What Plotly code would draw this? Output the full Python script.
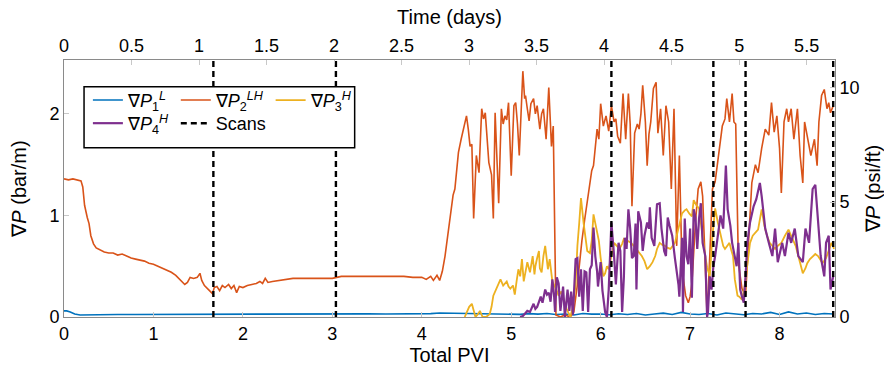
import plotly.graph_objects as go

# ---------------- data (Total PVI, bar/m) ----------------
P1_L = [(0.00,0.06),(0.03,0.06),(0.07,0.05),(0.12,0.03),(0.18,0.02),(0.25,0.022),(0.4,0.024),(0.6,0.025),
        (0.8,0.025),(1.0,0.026),(1.2,0.027),(1.4,0.028),(1.6,0.028),(1.8,0.03),(2.0,0.03),(2.2,0.03),
        (2.4,0.03),(2.6,0.029),(2.8,0.03),(3.0,0.031),(3.2,0.031),(3.4,0.031),(3.6,0.03),(3.8,0.031),
        (4.0,0.03),(4.1,0.033),(4.2,0.04),(4.3,0.038),(4.4,0.036),(4.5,0.035),(4.6,0.033),(4.7,0.032),
        (4.8,0.03),(4.9,0.028),(5.0,0.03),(5.1,0.026),(5.2,0.033),(5.3,0.028),(5.4,0.035),(5.5,0.025),
        (5.6,0.03),(5.7,0.02),(5.8,0.035),(5.9,0.028),(6.0,0.03),(6.1,0.022),(6.2,0.032),(6.3,0.025),
        (6.4,0.035),(6.5,0.02),(6.6,0.03),(6.7,0.038),(6.8,0.025),(6.9,0.045),(7.0,0.03),(7.1,0.025),
        (7.2,0.035),(7.3,0.02),(7.4,0.04),(7.5,0.028),(7.6,0.022),(7.7,0.035),(7.8,0.03),(7.9,0.045),
        (8.0,0.025),(8.1,0.05),(8.2,0.03),(8.3,0.04),(8.4,0.025),(8.5,0.035),(8.6,0.03)]

P2_LH = [(0.00,1.36),(0.05,1.35),(0.10,1.36),(0.15,1.35),(0.19,1.34),(0.21,1.28),(0.23,1.10),(0.26,0.98),
         (0.28,0.92),(0.30,0.80),(0.33,0.72),(0.36,0.68),(0.40,0.66),(0.45,0.64),(0.50,0.63),(0.55,0.63),
         (0.60,0.61),(0.65,0.62),(0.70,0.60),(0.75,0.58),(0.80,0.57),(0.85,0.56),(0.90,0.55),(0.95,0.53),
         (1.00,0.52),(1.05,0.50),(1.10,0.48),(1.15,0.46),(1.20,0.44),(1.25,0.41),(1.30,0.36),(1.35,0.32),
         (1.38,0.34),(1.41,0.39),(1.45,0.38),(1.49,0.39),(1.52,0.43),(1.54,0.36),(1.57,0.31),(1.62,0.27),
         (1.66,0.23),(1.68,0.29),(1.71,0.30),(1.74,0.26),(1.77,0.31),(1.80,0.29),(1.84,0.32),(1.87,0.28),
         (1.90,0.31),(1.93,0.24),(1.96,0.30),(2.00,0.29),(2.05,0.31),(2.10,0.32),(2.15,0.33),(2.19,0.35),
         (2.22,0.33),(2.25,0.38),(2.28,0.34),(2.33,0.35),(2.40,0.36),(2.48,0.37),(2.56,0.38),(2.65,0.38),
         (2.75,0.38),(2.90,0.38),(3.00,0.38),(3.05,0.39),(3.10,0.40),(3.20,0.40),(3.35,0.40),(3.50,0.40),
         (3.65,0.40),(3.80,0.40),(3.90,0.39),(4.00,0.39),(4.05,0.37),(4.10,0.40),(4.13,0.36),(4.17,0.41),
         (4.20,0.36),(4.23,0.45),(4.26,0.60),(4.29,0.80),(4.32,1.00),(4.35,1.20),(4.37,1.26),(4.39,1.45),
         (4.41,1.62),(4.44,1.75),(4.47,1.88),(4.50,1.98),(4.52,1.85),(4.54,1.68),(4.56,1.70),(4.58,0.97),
         (4.61,1.59),(4.64,1.42),(4.67,2.05),(4.69,1.95),(4.71,2.01),(4.73,1.80),(4.75,1.52),(4.78,1.40),
         (4.80,0.97),(4.82,2.01),(4.84,1.60),(4.86,1.12),(4.89,2.05),(4.91,1.90),(4.93,1.98),(4.95,1.94),
         (4.97,2.11),(5.00,1.39),(5.03,2.08),(5.05,2.11),(5.07,1.90),(5.09,1.59),(5.11,2.00),(5.13,2.42),
         (5.15,2.15),(5.16,2.18),(5.18,2.05),(5.20,1.93),(5.22,2.10),(5.25,2.15),(5.27,2.00),(5.29,2.08),
         (5.32,1.85),(5.34,2.00),(5.36,2.05),(5.39,1.75),(5.42,2.26),(5.44,1.90),(5.45,1.68),(5.47,1.88),
         (5.49,0.30),(5.50,0.02),(5.55,0.00),(5.60,0.02),(5.66,0.00),(5.70,0.05),(5.74,0.32),(5.77,0.60),
         (5.79,0.75),(5.82,0.95),(5.85,1.14),(5.88,1.30),(5.90,1.44),(5.92,1.49),(5.94,1.64),(5.96,1.85),
         (5.98,1.75),(6.00,2.10),(6.03,1.88),(6.06,1.98),(6.09,1.83),(6.12,2.08),(6.15,1.92),(6.17,1.95),
         (6.19,1.78),(6.22,1.71),(6.25,2.20),(6.28,1.75),(6.31,2.20),(6.33,1.90),(6.35,1.09),(6.38,1.81),
         (6.41,1.90),(6.43,1.85),(6.45,2.00),(6.47,2.28),(6.50,1.92),(6.52,1.49),(6.54,1.80),(6.56,1.92),
         (6.59,2.25),(6.62,2.31),(6.64,1.81),(6.67,2.05),(6.70,1.59),(6.73,2.08),(6.76,1.92),(6.79,1.26),
         (6.82,2.05),(6.85,0.70),(6.88,1.59),(6.91,0.47),(6.95,0.21),(6.98,0.14),(7.00,0.20),(7.02,0.33),
         (7.06,0.93),(7.09,1.26),(7.12,1.33),(7.14,1.19),(7.17,0.50),(7.19,0.01),(7.22,0.60),(7.25,1.26),
         (7.28,1.33),(7.32,1.59),(7.36,1.88),(7.39,1.95),(7.41,2.15),(7.44,1.92),(7.47,2.20),(7.49,1.92),
         (7.51,1.90),(7.54,0.53),(7.58,0.28),(7.62,0.21),(7.65,0.73),(7.69,1.32),(7.73,1.50),(7.76,1.42),
         (7.80,1.66),(7.84,1.85),(7.88,1.79),(7.91,2.11),(7.94,1.82),(7.97,1.98),(8.00,1.66),(8.02,1.22),
         (8.05,1.92),(8.08,2.05),(8.10,1.92),(8.13,2.05),(8.16,1.75),(8.20,2.05),(8.23,1.59),(8.26,1.32),
         (8.28,1.92),(8.31,1.79),(8.35,1.59),(8.39,1.75),(8.42,1.49),(8.44,1.92),(8.47,2.18),(8.50,2.24),
         (8.53,2.05),(8.55,2.11),(8.57,2.01),(8.60,2.08)]

P3_H = [(4.48,0.00),(4.50,0.04),(4.53,0.10),(4.56,0.13),(4.58,0.05),(4.60,0.00),(4.63,0.03),(4.65,0.06),
        (4.68,0.00),(4.72,0.00),(4.76,0.03),(4.78,0.10),(4.80,0.21),(4.83,0.27),(4.86,0.33),(4.88,0.37),
        (4.91,0.31),(4.93,0.33),(4.95,0.35),(4.97,0.30),(4.99,0.28),(5.02,0.31),(5.04,0.22),(5.06,0.35),
        (5.08,0.47),(5.10,0.40),(5.12,0.57),(5.14,0.35),(5.16,0.45),(5.18,0.54),(5.21,0.44),(5.23,0.55),
        (5.24,0.60),(5.26,0.42),(5.27,0.50),(5.29,0.58),(5.31,0.65),(5.32,0.48),(5.34,0.44),(5.36,0.60),
        (5.38,0.70),(5.40,0.55),(5.41,0.47),(5.43,0.57),(5.46,0.35),(5.50,0.28),(5.53,0.21),(5.56,0.25),
        (5.58,0.19),(5.62,0.08),(5.66,0.00),(5.69,0.10),(5.72,0.32),(5.74,0.70),(5.76,0.92),(5.78,1.17),
        (5.81,0.92),(5.83,0.80),(5.85,0.65),(5.88,0.63),(5.90,0.75),(5.92,1.01),(5.94,0.93),(5.96,0.85),
        (5.98,0.75),(6.00,0.58),(6.03,0.40),(6.05,0.43),(6.07,0.50),(6.09,0.47),(6.12,0.60),(6.15,0.73),
        (6.18,0.70),(6.21,0.67),(6.24,0.72),(6.26,0.77),(6.30,0.75),(6.34,0.73),(6.37,0.70),(6.40,0.67),
        (6.43,0.64),(6.46,0.60),(6.49,0.55),(6.52,0.47),(6.55,0.50),(6.58,0.54),(6.61,0.60),(6.63,0.67),
        (6.66,0.73),(6.69,0.71),(6.72,0.70),(6.75,0.68),(6.78,0.67),(6.81,0.70),(6.83,0.73),(6.85,0.80),
        (6.87,0.87),(6.91,1.02),(6.94,1.05),(6.96,1.06),(6.99,1.02),(7.02,0.99),(7.04,1.15),(7.07,1.10),
        (7.10,1.07),(7.13,0.85),(7.16,0.65),(7.19,0.49),(7.22,0.40),(7.25,0.80),(7.28,1.07),(7.31,0.93),
        (7.34,0.80),(7.37,0.70),(7.39,0.67),(7.42,0.70),(7.44,0.73),(7.46,0.66),(7.48,0.60),(7.50,0.37),
        (7.53,0.21),(7.55,0.20),(7.58,0.17),(7.61,0.30),(7.64,0.53),(7.67,0.73),(7.70,0.80),(7.73,0.83),
        (7.76,0.86),(7.80,1.06),(7.83,0.90),(7.86,0.80),(7.89,0.73),(7.92,0.70),(7.95,0.67),(7.98,0.70),
        (8.02,0.73),(8.06,0.80),(8.10,0.86),(8.14,0.78),(8.18,0.70),(8.21,0.60),(8.24,0.50),(8.26,0.43),
        (8.29,0.48),(8.31,0.53),(8.34,0.57),(8.37,0.60),(8.40,0.62),(8.43,0.60),(8.46,0.56),(8.48,0.53),
        (8.52,0.58),(8.55,0.65),(8.58,0.73),(8.61,0.67)]

P4_H = [(5.10,0.00),(5.13,0.01),(5.16,0.04),(5.18,0.06),(5.21,0.05),(5.23,0.10),(5.25,0.13),(5.27,0.08),
        (5.29,0.10),(5.31,0.15),(5.33,0.20),(5.35,0.14),(5.38,0.27),(5.40,0.22),(5.42,0.24),(5.44,0.15),
        (5.46,0.37),(5.48,0.20),(5.49,0.05),(5.51,0.39),(5.53,0.33),(5.55,0.06),(5.58,0.30),(5.60,0.00),
        (5.63,0.27),(5.65,0.06),(5.67,0.25),(5.69,0.02),(5.72,0.57),(5.74,0.58),(5.76,0.20),(5.78,0.47),
        (5.80,0.06),(5.82,0.45),(5.84,0.44),(5.86,0.05),(5.88,0.47),(5.90,0.51),(5.92,0.88),(5.94,0.60),
        (5.96,0.45),(5.97,0.30),(6.00,0.54),(6.02,0.26),(6.05,0.05),(6.07,0.00),(6.09,0.27),(6.12,0.93),
        (6.13,0.78),(6.15,0.60),(6.17,0.32),(6.20,0.73),(6.22,0.65),(6.24,0.05),(6.26,0.40),(6.27,0.78),
        (6.29,0.67),(6.31,1.06),(6.33,0.87),(6.35,0.58),(6.37,0.60),(6.39,0.92),(6.40,0.27),(6.42,1.04),
        (6.45,0.93),(6.47,0.65),(6.49,0.80),(6.52,0.93),(6.54,0.87),(6.55,1.08),(6.57,0.78),(6.60,0.70),
        (6.63,1.11),(6.66,1.12),(6.68,0.87),(6.71,0.65),(6.73,0.60),(6.75,0.98),(6.77,0.90),(6.80,0.80),
        (6.83,0.58),(6.85,0.47),(6.87,0.32),(6.88,0.20),(6.91,0.78),(6.92,0.05),(6.94,0.97),(6.96,0.60),
        (6.98,0.52),(7.00,0.87),(7.02,0.19),(7.04,1.06),(7.06,0.98),(7.08,0.67),(7.10,0.97),(7.12,1.12),
        (7.14,0.73),(7.17,0.60),(7.19,0.00),(7.20,0.05),(7.22,0.40),(7.24,0.27),(7.26,0.50),(7.28,0.60),
        (7.31,0.80),(7.34,1.00),(7.37,0.87),(7.40,1.49),(7.42,1.06),(7.45,0.90),(7.47,0.73),(7.50,0.60),
        (7.52,0.50),(7.54,0.73),(7.56,0.27),(7.58,0.20),(7.60,0.14),(7.62,0.40),(7.64,0.73),(7.67,0.93),
        (7.71,1.09),(7.74,1.16),(7.78,1.32),(7.80,1.19),(7.82,1.00),(7.84,0.87),(7.88,0.73),(7.92,0.60),
        (7.95,0.87),(7.98,0.54),(8.03,0.73),(8.06,0.60),(8.10,0.83),(8.13,0.73),(8.17,0.87),(8.21,0.60),
        (8.26,0.54),(8.29,0.87),(8.33,0.73),(8.35,1.00),(8.37,1.26),(8.40,1.30),(8.43,0.97),(8.46,0.60),
        (8.50,0.40),(8.52,0.73),(8.55,0.80),(8.57,0.27),(8.60,0.40)]

SCANS_PVI = [1.67, 3.04, 6.12, 7.26, 7.62, 8.60]

PVI_TICKS = [0, 1, 2, 3, 4, 5, 6, 7, 8]
DAY_TICKS = [0, 0.5, 1, 1.5, 2, 2.5, 3, 3.5, 4, 4.5, 5, 5.5]
BAR_TICKS = [0, 1, 2]
PSI_TICKS = [0, 5, 10]

PVI_RANGE = [0, 8.62]
DAY_RANGE = [0, 5.71]
BAR_RANGE = [0, 2.53]
BAR_TO_PSI_FT = 4.4208

NAMES = ["∇<i>P</i><sub>1</sub><sup><i>L</i></sup>",
         "∇<i>P</i><sub>2</sub><sup><i>LH</i></sup>",
         "∇<i>P</i><sub>3</sub><sup><i>H</i></sup>",
         "∇<i>P</i><sub>4</sub><sup><i>H</i></sup>",
         "Scans"]
COLORS = ["#0072BD", "#D95319", "#EDB120", "#7E2F8E", "black"]

FONT = "Liberation Sans"

def unzip(pairs):
    return [p[0] for p in pairs], [p[1] for p in pairs]

fig = go.Figure()
series = [P1_L, P2_LH, P3_H, P4_H]
widths = [1.6, 1.6, 1.8, 2.2]
legend_ids = ["legend", "legend2", "legend3", "legend4", "legend5"]
for pairs, name, color, w, lg in zip(series, NAMES[:4], COLORS[:4], widths, legend_ids[:4]):
    x, y = unzip(pairs)
    fig.add_trace(go.Scatter(x=x, y=y, mode="lines", name=name, legend=lg,
                             line=dict(color=color, width=w)))

sx, sy = [], []
for s in SCANS_PVI:
    sx += [s, s, None]
    sy += [BAR_RANGE[0], BAR_RANGE[1], None]
fig.add_trace(go.Scatter(x=sx, y=sy, mode="lines", name=NAMES[4], legend="legend5",
                         line=dict(color="black", width=2.4, dash="6px,4px")))

# invisible trace to activate the secondary (top / right) axes
fig.add_trace(go.Scatter(x=[DAY_RANGE[0]], y=[0], xaxis="x2", yaxis="y2", mode="markers",
                         marker=dict(opacity=0), showlegend=False, hoverinfo="skip"))

axis_common = dict(showline=True, linecolor="#8a8a8a", linewidth=1, ticks="inside", ticklen=5,
                   tickcolor="#c8c8c8", showgrid=False, zeroline=False, automargin=False,
                   tickfont=dict(family=FONT, size=18, color="black"))

legend_pos = [(0.031, 0.915), (0.145, 0.915), (0.268, 0.915), (0.031, 0.825), (0.145, 0.825)]
legends = {}
for lid, (lx, ly) in zip(legend_ids, legend_pos):
    legends[lid] = dict(orientation="h", x=lx, y=ly, xanchor="left", yanchor="top",
                        bgcolor="rgba(0,0,0,0)", borderwidth=0,
                        font=dict(family=FONT, size=18), itemwidth=30)

fig.update_layout(
    width=884, height=373,
    margin=dict(l=64, r=49, t=60, b=56),
    paper_bgcolor="white", plot_bgcolor="white",
    font=dict(family=FONT, color="black"),
    xaxis=dict(range=PVI_RANGE, tickvals=PVI_TICKS, title=dict(text="Total PVI", font=dict(size=20), standoff=2),
               **axis_common),
    xaxis2=dict(range=DAY_RANGE, tickvals=DAY_TICKS, overlaying="x", side="top", anchor="y",
                title=dict(text="Time (days)", font=dict(size=20), standoff=5), **axis_common),
    yaxis=dict(range=BAR_RANGE, tickvals=BAR_TICKS, title=dict(text="∇<i>P</i> (bar/m)", font=dict(size=20), standoff=17),
               **axis_common),
    yaxis2=dict(range=[BAR_RANGE[0] * BAR_TO_PSI_FT, BAR_RANGE[1] * BAR_TO_PSI_FT], tickvals=PSI_TICKS,
                overlaying="y", side="right", anchor="x",
                title=dict(text="∇<i>P</i> (psi/ft)", font=dict(size=20), standoff=10), **axis_common),
    shapes=[dict(type="rect", xref="paper", yref="paper", x0=0.026, x1=0.377, y0=0.659, y1=0.896,
                 line=dict(color="black", width=1.5), fillcolor="white", layer="above")],
    showlegend=True,
    **legends,
)

fig.write_html("out.html")
